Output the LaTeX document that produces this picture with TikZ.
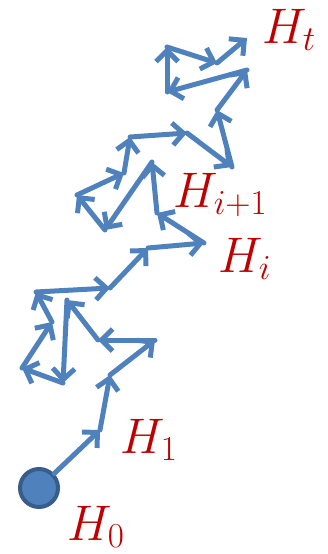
\RequirePackage{fix-cm}
\documentclass[tikz,border=0pt]{standalone}
\usepackage{amsmath,amssymb}
\usetikzlibrary{arrows.meta}
\definecolor{walkblue}{RGB}{79,129,189}
\definecolor{walkedge}{RGB}{56,93,138}
\definecolor{labred}{RGB}{192,0,0}

\begin{document}
\begin{tikzpicture}[
    x=1pt, y=-1pt,
    start/.style={circle, draw=walkedge, line width=4pt, fill=walkblue, minimum size=38pt, inner sep=0pt},
    arr/.style={-{Straight Barb[length=11pt, width=22pt]}, line width=5pt, walkblue, line cap=round},
    lbl/.style={anchor=base west, inner sep=0pt, text=labred, font=\fontsize{50}{60}\selectfont}
]
\useasboundingbox (0,0) rectangle (327,554);

% random walk points
\node[start] (p0) at (39,488) {};
\coordinate (p1) at (100,430);
\coordinate (p2) at (110,375);
\coordinate (p3) at (155,340);
\coordinate (p4) at (98,340);
\coordinate (p5) at (67,300);
\coordinate (p6) at (63,383);
\coordinate (p7) at (22,368);
\coordinate (p8) at (52,322);
\coordinate (p9) at (36,292);
\coordinate (p10) at (110,288);
\coordinate (p11) at (148,248);
\coordinate (p12) at (204,243);
\coordinate (p13) at (157,213);
\coordinate (p14) at (152,162);
\coordinate (p15) at (105,230);
\coordinate (p16) at (77,195);
\coordinate (p17) at (124,173);
\coordinate (p18) at (130,137);
\coordinate (p19) at (187,133);
\coordinate (p20) at (232,167);
\coordinate (p21) at (217,110);
\coordinate (p22) at (247,70);
\coordinate (p23) at (167,92);
\coordinate (p24) at (167,47);
\coordinate (p25) at (217,63);
\coordinate (p26) at (247,38);

\foreach \a [count=\b from 1] in {0,...,25}
  \draw[arr] (p\a) -- (p\b);

% labels
\node[lbl] (h0) at (67,540) {$H_0$};
\node[lbl] (h1) at (120,453) {$H_1$};
\node[lbl] (hi) at (218,272) {$H_i$};
\node[lbl] (hi1) at (173,207) {$H_{i+1}$};
\node[lbl] (ht) at (262,43) {$H_t$};
\end{tikzpicture}
\end{document}
